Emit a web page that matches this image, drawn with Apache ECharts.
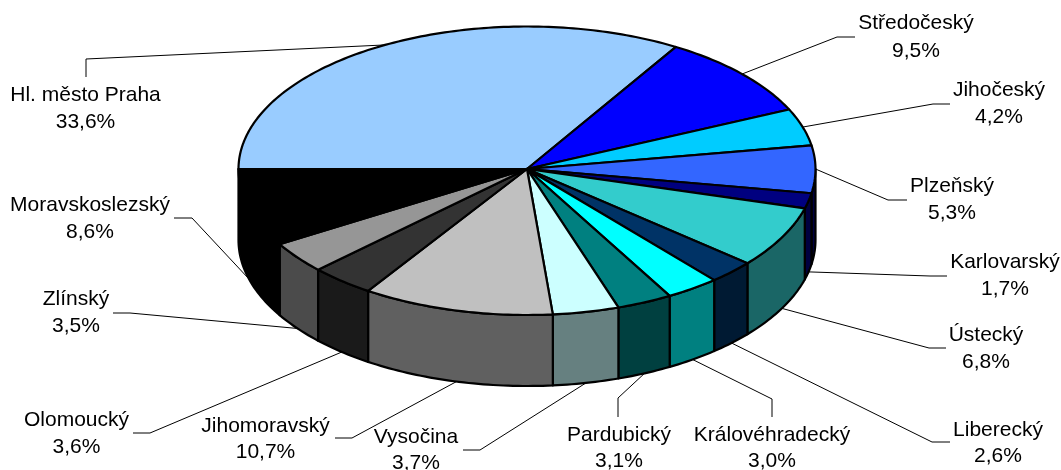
<!DOCTYPE html>
<html>
<head>
<meta charset="utf-8">
<title>Kraje</title>
<script src="https://cdn.jsdelivr.net/npm/echarts@6/dist/echarts.min.js"></script>
<style>
  html, body { margin: 0; background: #fff; }
  #chart { width: 1061px; height: 470px; }
</style>
</head>
<body>
<div id="chart"></div>
<script>
var regions = ['Hl. město Praha', 'Středočeský', 'Jihočeský', 'Plzeňský', 'Karlovarský', 'Ústecký', 'Liberecký',
  'Královéhradecký', 'Pardubický', 'Vysočina', 'Jihomoravský', 'Olomoucký', 'Zlínský', 'Moravskoslezský']
var shares = [33.6, 9.5, 4.2, 5.3, 1.7, 6.8, 2.6, 3.0, 3.1, 3.7, 10.7, 3.6, 3.5, 8.6]

var topColors = ['#99ccff', '#0000ff', '#00ccff', '#3366ff', '#000080', '#33cccc', '#003366',
  '#00ffff', '#008080', '#ccffff', '#c0c0c0', '#333333', '#969696', '#000000']
var sideColors = ['#4d6680', '#000080', '#006680', '#000040', '#000040', '#1a6666', '#001a33',
  '#008080', '#004040', '#668080', '#606060', '#1a1a1a', '#4b4b4b', '#000000']

// label layout: text centre x, name y, percent y, then elbow and end of the leader line
var labelLayout = [
  [85.5, 95, 122, [86, 59], [86, 77]],
  [916, 23, 51, [837, 37], [855, 37]],
  [999, 90, 117, [933, 104], [950, 104]],
  [952, 186, 213, [888, 200], [907, 200]],
  [1005, 262, 289, [930, 276], [947, 276]],
  [986, 335, 362, [929, 348], [946, 348]],
  [998, 430, 456, [932, 442], [950, 442]],
  [772, 435, 461, [772, 399], [772, 417]],
  [619, 435, 461, [618, 398], [618, 417]],
  [416, 437, 463, [480, 450], [463, 450]],
  [265.5, 426, 452, [352, 438], [335, 438]],
  [76.5, 420, 447, [150, 433], [133, 433]],
  [76, 299, 326, [130, 313], [113, 313]],
  [90, 205, 232, [192, 218], [174, 218]]
]

var cx = 527
var cy = 169
var rx = 288.5
var ryBack = 142.5 // back of the disc is a bit flatter than the front
var ryFront = 146
var depth = 71
var startDeg = -90 // first slice starts on the left, angles run clockwise from the top

var total = shares.reduce(function(a, b) { return a + b }, 0)

function rimPoint(deg, drop) {
  var r = deg * Math.PI / 180
  var c = Math.cos(r)
  return [cx + rx * Math.sin(r), cy - (c > 0 ? ryBack : ryFront) * c + (drop || 0)]
}

function sliceAngles(idx) {
  var before = 0
  for (var i = 0; i < idx; i++) {
    before += shares[i]
  }
  var a0 = startDeg + before / total * 360
  return [a0, a0 + shares[idx] / total * 360]
}

function arcPoints(a0, a1, drop) {
  var pts = []
  var steps = Math.max(2, Math.ceil(Math.abs(a1 - a0)))
  for (var i = 0; i <= steps; i++) {
    pts.push(rimPoint(a0 + (a1 - a0) * i / steps, drop))
  }
  return pts
}

function renderLabel(params, api) {
  var i = params.dataIndex
  var a = sliceAngles(i)
  var mid = (a[0] + a[1]) / 2
  var norm = (mid + 360) % 360
  var layout = labelLayout[i]
  var start = rimPoint(mid, norm > 91 && norm < 270 ? depth : 0)
  var textStyle = { fontFamily: 'Liberation Sans', fontSize: 21, fill: '#000', align: 'center', verticalAlign: 'middle' }
  return {
    type: 'group',
    children: [{
      type: 'polyline',
      shape: { points: [start, layout[3], layout[4]] },
      style: { stroke: '#000', lineWidth: 1, fill: null }
    }, {
      type: 'text',
      style: Object.assign({ text: regions[i], x: layout[0], y: layout[1] }, textStyle)
    }, {
      type: 'text',
      style: Object.assign({ text: api.value(0).toFixed(1).replace('.', ',') + '%', x: layout[0], y: layout[2] }, textStyle)
    }]
  }
}

function renderWall(params) {
  var i = params.dataIndex
  var a = sliceAngles(i)
  // only the front half of the rim has a visible wall
  var from = Math.max(a[0], 90)
  var to = Math.min(a[1], 270)
  if (to <= from) {
    return
  }
  var pts = arcPoints(from, to, 0).concat(arcPoints(to, from, depth))
  return {
    type: 'polygon',
    shape: { points: pts },
    style: { fill: sideColors[i], stroke: '#000', lineWidth: 2.2, lineJoin: 'round' }
  }
}

function renderTop(params) {
  var i = params.dataIndex
  var a = sliceAngles(i)
  return {
    type: 'polygon',
    shape: { points: [[cx, cy]].concat(arcPoints(a[0], a[1], 0)) },
    style: { fill: topColors[i], stroke: '#000', lineWidth: 2.2, lineJoin: 'round' }
  }
}

var chart = echarts.init(document.getElementById('chart'))
var seriesData = shares.map(function(v) { return [v] })
chart.setOption({
  animation: false,
  backgroundColor: '#fff',
  series: [
    { type: 'custom', coordinateSystem: 'none', z: 1, renderItem: renderLabel, data: seriesData },
    { type: 'custom', coordinateSystem: 'none', z: 2, renderItem: renderWall, data: seriesData },
    { type: 'custom', coordinateSystem: 'none', z: 3, renderItem: renderTop, data: seriesData }
  ]
})
</script>
</body>
</html>
